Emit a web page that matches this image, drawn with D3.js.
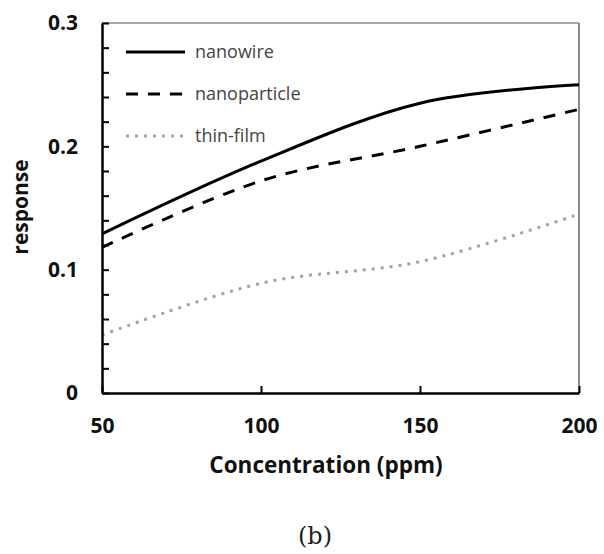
<!DOCTYPE html>
<html>
<head>
<meta charset="utf-8">
<script src="https://cdn.jsdelivr.net/npm/d3@7"></script>
<style>
  html, body { margin: 0; padding: 0; background: #fff; }
  svg { display: block; }
</style>
</head>
<body>
<svg id="chart" width="604" height="554"></svg>
<script>
// Sensor response versus gas concentration for three sensor morphologies
const concentrations = [50, 100, 150, 200];
const nanowire       = [0.129, 0.188, 0.235, 0.250];
const nanoparticle   = [0.118, 0.172, 0.200, 0.230];
const thinFilm       = [0.047, 0.089, 0.1065, 0.145];

const seriesNames = ["nanowire", "nanoparticle", "thin-film"];
const xTicks = [50, 100, 150, 200];
const xTickLabels = ["50", "100", "150", "200"];
const yTicks = [0, 0.02, 0.04, 0.06, 0.08, 0.1, 0.12, 0.14, 0.16, 0.18, 0.2, 0.22, 0.24, 0.26, 0.28, 0.3];
const yMajorTicks = [0, 0.1, 0.2, 0.3];
const yTickLabels = ["0", "0.1", "0.2", "0.3"];

const svg = d3.select("#chart");
const plot = { left: 102, right: 579, top: 23, bottom: 393 };

const x = d3.scaleLinear().domain([50, 200]).range([plot.left, plot.right]);
const y = d3.scaleLinear().domain([0, 0.3]).range([plot.bottom, plot.top]);

const boldFont = "'Open Sans', 'DejaVu Sans', sans-serif";

// Frame: top and right edges in grey
svg.append("line")
  .attr("x1", plot.left).attr("x2", plot.right)
  .attr("y1", plot.top).attr("y2", plot.top)
  .attr("stroke", "#8a8a8a").attr("stroke-width", 1.5);
svg.append("line")
  .attr("x1", plot.right).attr("x2", plot.right)
  .attr("y1", plot.top).attr("y2", plot.bottom)
  .attr("stroke", "#8a8a8a").attr("stroke-width", 2);

// Series
const styles = [
  { values: nanowire,     color: "#000", width: 3,   dash: null },
  { values: nanoparticle, color: "#000", width: 3,   dash: "12,10" },
  { values: thinFilm,     color: "#a3a3a3", width: 3, dash: "3,6" }
];

const line = d3.line()
  .x(d => x(d[0]))
  .y(d => y(d[1]))
  .curve(d3.curveCardinal.tension(0));

styles.forEach(s => {
  svg.append("path")
    .datum(concentrations.map((c, i) => [c, s.values[i]]))
    .attr("d", line)
    .attr("fill", "none")
    .attr("stroke", s.color)
    .attr("stroke-width", s.width)
    .attr("stroke-dasharray", s.dash);
});

// Axes
const yAxis = d3.axisLeft(y)
  .tickValues(yTicks)
  .tickSizeInner(-7)
  .tickSizeOuter(0)
  .tickPadding(24)
  .tickFormat(d => {
    const k = yMajorTicks.findIndex(m => Math.abs(m - d) < 1e-9);
    return k >= 0 ? yTickLabels[k] : "";
  });

const gy = svg.append("g")
  .attr("transform", `translate(${plot.left},0)`)
  .call(yAxis);
gy.select(".domain").attr("stroke", "#000").attr("stroke-width", 2.5);
gy.selectAll(".tick line").attr("stroke", "#000").attr("stroke-width", 2);
gy.selectAll(".tick text")
  .attr("font-family", boldFont).attr("font-weight", "bold")
  .attr("font-size", 21).attr("fill", "#111");

const xAxis = d3.axisBottom(x)
  .tickValues(xTicks)
  .tickSizeInner(-7)
  .tickSizeOuter(0)
  .tickPadding(25)
  .tickFormat((d, i) => xTickLabels[i]);

const gx = svg.append("g")
  .attr("transform", `translate(0,${plot.bottom})`)
  .call(xAxis);
gx.select(".domain").attr("stroke", "#000").attr("stroke-width", 2.5);
gx.selectAll(".tick line").attr("stroke", "#000").attr("stroke-width", 2);
gx.selectAll(".tick text")
  .attr("font-family", boldFont).attr("font-weight", "bold")
  .attr("font-size", 21).attr("fill", "#111");

// Axis titles
svg.append("text")
  .attr("x", 326).attr("y", 473)
  .attr("text-anchor", "middle")
  .attr("font-family", boldFont).attr("font-weight", "bold")
  .attr("font-size", 22.5).attr("fill", "#111")
  .text("Concentration (ppm)");

svg.append("text")
  .attr("transform", "translate(28,207) rotate(-90)")
  .attr("text-anchor", "middle")
  .attr("font-family", boldFont).attr("font-weight", "bold")
  .attr("font-size", 21).attr("fill", "#111")
  .text("response");

// Legend
const legendY = [52, 94, 136];
styles.forEach((s, i) => {
  svg.append("line")
    .attr("x1", 126).attr("x2", 185)
    .attr("y1", legendY[i]).attr("y2", legendY[i])
    .attr("stroke", s.color)
    .attr("stroke-width", s.width)
    .attr("stroke-dasharray", s.dash);
  svg.append("text")
    .attr("x", 195).attr("y", legendY[i])
    .attr("dy", "0.35em")
    .attr("font-family", "'Open Sans', sans-serif")
    .attr("font-size", 18).attr("fill", "#444")
    .text(seriesNames[i]);
});

// Panel label
svg.append("text")
  .attr("x", 315).attr("y", 544)
  .attr("text-anchor", "middle")
  .attr("font-family", "'DejaVu Serif', 'Liberation Serif', serif")
  .attr("font-size", 24).attr("fill", "#222")
  .text("(b)");
</script>
</body>
</html>
